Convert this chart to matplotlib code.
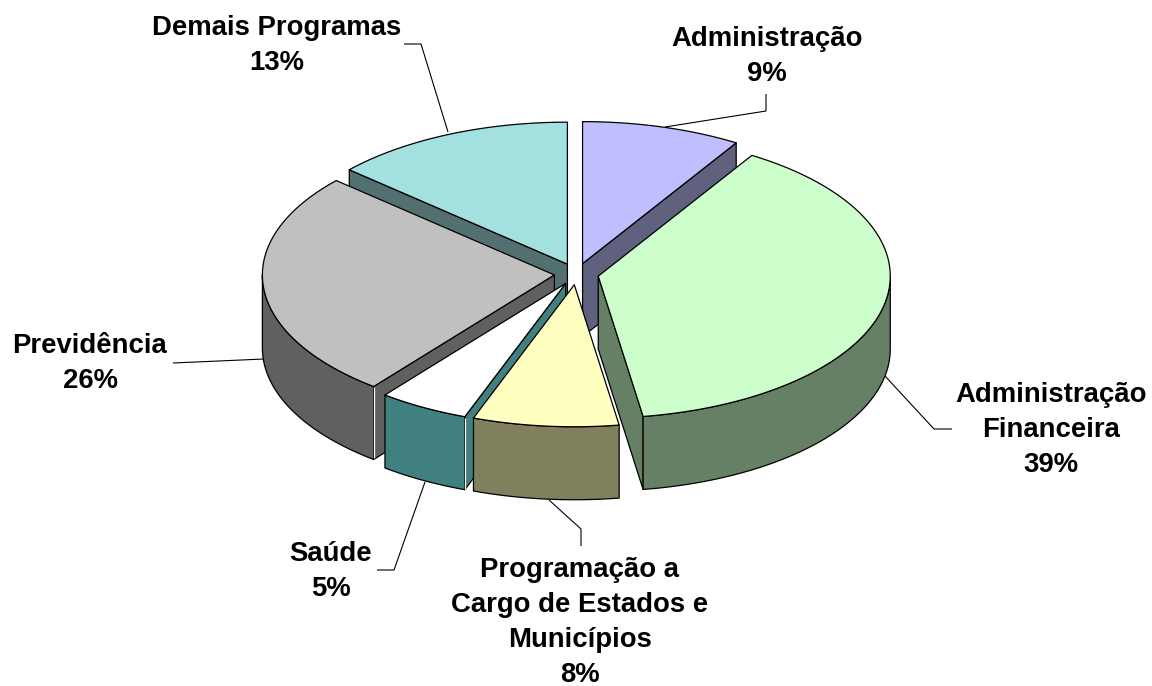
import numpy as np
import matplotlib
matplotlib.use("Agg")
import matplotlib.pyplot as plt
from matplotlib.patches import Polygon

# Data: clockwise from the top
categories = ["Administração", "Administração\nFinanceira",
              "Programação a\nCargo de Estados e\nMunicípios",
              "Saúde", "Previdência", "Demais Programas"]
values = [8.8, 38.65, 8.05, 5.0, 25.9, 13.4]
pct_labels = ["9%", "39%", "8%", "5%", "26%", "13%"]

# Styles
top_colors = ["#BFBFFF", "#CCFFCC", "#FFFFC0", "#FFFFFF", "#C0C0C0", "#A3E0E0"]
wall_colors = ["#60607F", "#668066", "#80805F", "#408080", "#606060", "#527070"]

# Layout in pixels
CX, CY, RX, RY, DEPTH, EXPLODE = 576.5, 274.0, 292.0, 142.0, 73.0, 0.076
label_pos = [(767, 46), (1051, 402), (580, 577), (331, 561), (90, 353), (277, 35)]
LINE_PITCH = 35
leaders = [
    [(766, 94), (766, 111), (665, 127)],
    [(885, 376), (934, 429), (952, 429)],
    [(549, 500), (581, 529), (581, 546)],
    [(425, 482), (394, 570), (377, 570)],
    [(173, 363), (264, 359)],
    [(404, 44), (421, 44), (448, 132)],
]

plt.rcParams["font.family"] = ["Liberation Sans", "DejaVu Sans"]
fig = plt.figure(figsize=(11.52, 6.86), dpi=100, facecolor="white")
ax = fig.add_axes([0, 0, 1, 1])
ax.set_xlim(0, 1152)
ax.set_ylim(686, 0)
ax.axis("off")

vals = np.array(values, dtype=float)
edges = np.concatenate([[0], np.cumsum(vals)]) / vals.sum() * 2 * np.pi
LW = 0.9


def rim(apex, t):
    t = np.asarray(t)
    return np.column_stack([apex[0] + RX * np.sin(t), apex[1] - RY * np.cos(t)])


def drop(pts):
    return pts + np.array([0, DEPTH])


slices = []
for i in range(len(vals)):
    a, b = edges[i], edges[i + 1]
    m = (a + b) / 2
    apex = (CX + EXPLODE * RX * np.sin(m), CY - EXPLODE * RY * np.cos(m))
    slices.append((np.cos(m), i, a, b, apex))

# Paint from the back of the pie to the front
for _, i, a, b, apex in sorted(slices, key=lambda s: -s[0]):
    zo = 2
    wall = dict(facecolor=wall_colors[i], edgecolor="black", linewidth=LW,
                joinstyle="round", zorder=zo)
    apex_pt = np.array([apex])
    start_vis = np.sin(a) < -1e-6
    end_vis = np.sin(b) > 1e-6
    if end_vis:
        p = np.vstack([apex_pt, rim(apex, [b])])
        ax.add_patch(Polygon(np.vstack([p, drop(p)[::-1]]), **wall))
    if start_vis:
        p = np.vstack([apex_pt, rim(apex, [a])])
        ax.add_patch(Polygon(np.vstack([p, drop(p)[::-1]]), **wall))
    lo, hi = max(a, np.pi / 2), min(b, 3 * np.pi / 2)
    if hi > lo:
        arc = rim(apex, np.linspace(lo, hi, 120))
        ax.add_patch(Polygon(np.vstack([arc, drop(arc)[::-1]]), **wall))
        if start_vis and lo == a:
            seam = rim(apex, [a])
            ax.plot([seam[0, 0]] * 2, [seam[0, 1] + 1, seam[0, 1] + DEPTH - 1],
                    color="white", lw=LW, zorder=zo, solid_capstyle="butt")
    arc = rim(apex, np.linspace(a, b, 200))
    ax.add_patch(Polygon(np.vstack([apex_pt, arc]), facecolor=top_colors[i],
                         edgecolor="black", linewidth=LW, joinstyle="round", zorder=zo))

for pts in leaders:
    xs, ys = zip(*pts)
    ax.plot(xs, ys, color="black", lw=0.8, zorder=3, solid_capstyle="butt")

for cat, pct, (x, y) in zip(categories, pct_labels, label_pos):
    for k, line in enumerate(cat.split("\n") + [pct]):
        ax.text(x, y + k * LINE_PITCH, line, ha="center", va="baseline",
                fontsize=19.8, fontweight="bold", color="black")

fig.savefig("out.png", dpi=100, facecolor="white")
